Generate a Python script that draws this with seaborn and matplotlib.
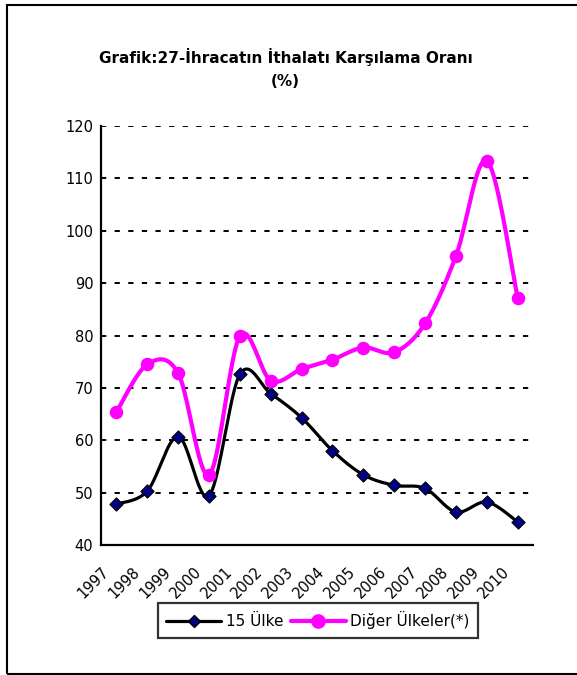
import numpy as np
import pandas as pd
import matplotlib
matplotlib.use('Agg')
import matplotlib.pyplot as plt
import matplotlib.patches as mpatches
from matplotlib.lines import Line2D
import seaborn as sns

sns.set_style('white')
plt.rcParams['font.family'] = ['DejaVu Sans']
plt.rcParams['text.color'] = 'black'
plt.rcParams['xtick.color'] = 'black'
plt.rcParams['ytick.color'] = 'black'

# data
years = ['1997', '1998', '1999', '2000', '2001', '2002', '2003',
         '2004', '2005', '2006', '2007', '2008', '2009', '2010']
ulke15 = [47.8, 50.3, 60.7, 49.4, 72.6, 68.9, 64.3,
          58.0, 53.4, 51.4, 50.8, 46.3, 48.2, 44.4]
diger = [65.4, 74.5, 72.8, 53.4, 79.9, 71.4, 73.6,
         75.4, 77.7, 76.8, 82.3, 95.2, 113.4, 87.2]
labels = ['15 Ülke', 'Diğer Ülkeler(*)']


def smooth(x, y, n=20):
    # Catmull-Rom curve through the points (like Excel's smoothed line)
    x = np.asarray(x, float)
    y = np.asarray(y, float)
    px = np.concatenate([[x[0]], x, [x[-1]]])
    py = np.concatenate([[y[0]], y, [y[-1]]])
    xs, ys = [], []
    t = np.linspace(0, 1, n, endpoint=False)
    for i in range(1, len(px) - 2):
        for p, out in ((px, xs), (py, ys)):
            p0, p1, p2, p3 = p[i - 1], p[i], p[i + 1], p[i + 2]
            c1 = p1 + (p2 - p0) / 6
            c2 = p2 - (p3 - p1) / 6
            out.extend((1 - t) ** 3 * p1 + 3 * (1 - t) ** 2 * t * c1
                       + 3 * (1 - t) * t ** 2 * c2 + t ** 3 * p2)
    xs.append(x[-1])
    ys.append(y[-1])
    return np.array(xs), np.array(ys)


fig = plt.figure(figsize=(5.77, 6.75), dpi=100)
ax = fig.add_axes([0.175, 0.1926, 0.749, 0.6207])

xpos = np.arange(len(years))
df = pd.DataFrame({'x': xpos, '15': ulke15, 'd': diger})

for col, color, lw in (('15', 'black', 2.3), ('d', '#ff00ff', 3.0)):
    sx, sy = smooth(df['x'], df[col])
    sns.lineplot(x=sx, y=sy, sort=False, estimator=None, color=color,
                 linewidth=lw, ax=ax, zorder=3)

sns.scatterplot(x=df['x'], y=df['15'], marker='D', s=45, color='#000080',
                edgecolor='black', linewidth=0.8, ax=ax, zorder=4)
sns.scatterplot(x=df['x'], y=df['d'], marker='o', s=95, color='#ff00ff',
                edgecolor='#ff00ff', linewidth=0, ax=ax, zorder=4)

ax.set_xlim(-0.5, len(years) - 0.5)
ax.set_ylim(40, 120)
ax.set_yticks(np.arange(40, 121, 10))
ax.set_xticks(np.arange(len(years) + 1) - 0.5)
ax.set_xticklabels(years + [''], rotation=45, ha='right',
                   rotation_mode='anchor', fontsize=10.5)
ax.tick_params(axis='y', labelsize=10.5, direction='inout', length=7,
               width=1.5, pad=2)
ax.tick_params(axis='x', direction='out', length=5, width=1.5, pad=9)
ax.set_xlabel('')
ax.set_ylabel('')

for v in np.arange(50, 121, 10):
    ax.axhline(v, color='black', linewidth=1.4, linestyle=(0, (2.7, 4.3)),
               zorder=1)

for s in ('top', 'right'):
    ax.spines[s].set_visible(False)
for s in ('left', 'bottom'):
    ax.spines[s].set_color('black')
    ax.spines[s].set_linewidth(1.6)

handles = [Line2D([], [], color='black', lw=2.3, marker='D', markersize=6.5,
                  markerfacecolor='#000080', markeredgecolor='black'),
           Line2D([], [], color='#ff00ff', lw=3.0, marker='o', markersize=9.5,
                  markerfacecolor='#ff00ff', markeredgecolor='#ff00ff')]
leg = ax.legend(handles, labels, loc='upper center',
                bbox_to_anchor=(0.502, -0.138), ncol=2, frameon=True,
                fancybox=False, fontsize=11, handlelength=3.6,
                handletextpad=0.3, columnspacing=0.5, borderpad=0.55,
                borderaxespad=0)
leg.get_frame().set_edgecolor('black')
leg.get_frame().set_linewidth(1.6)

fig.text(0.495, 1 - 57 / 675, 'Grafik:27-İhracatın İthalatı Karşılama Oranı',
         ha='center', va='center', fontsize=11, fontweight='bold')
fig.text(0.495, 1 - 82 / 675, '(%)', ha='center', va='center',
         fontsize=11, fontweight='bold')

fig.patches.append(mpatches.Rectangle((7 / 577, 1 - 674 / 675), 1.2,
                                      669 / 675, transform=fig.transFigure,
                                      fill=False, edgecolor='black',
                                      linewidth=1.5, clip_on=False))

fig.savefig('out.png', dpi=100)
